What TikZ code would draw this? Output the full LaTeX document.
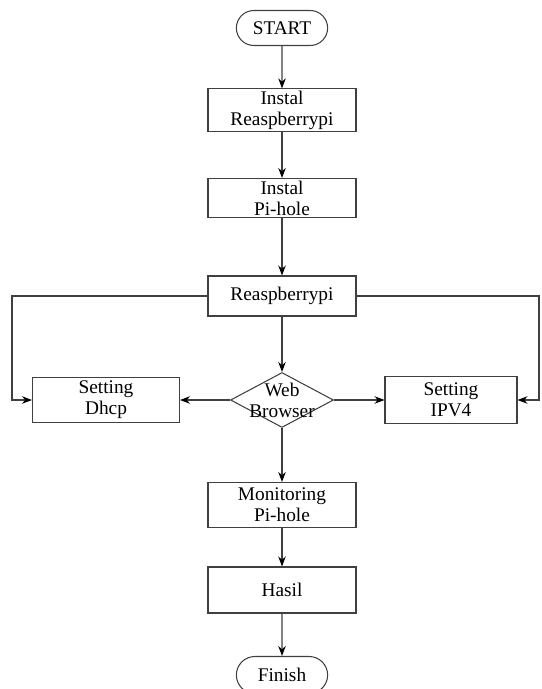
\documentclass[tikz,border=0pt]{standalone}
\usepackage{fontspec}
\setmainfont{Liberation Serif}
\usetikzlibrary{arrows.meta,shapes.geometric,shapes.misc}

\begin{document}
\begin{tikzpicture}[x=0.02cm, y=-0.02cm,
  font=\fontsize{11}{12}\selectfont,
  box/.style={draw=black!75, line width=0.6pt, rectangle, align=center,
    minimum width=2.96cm, minimum height=0.82cm, inner sep=1pt},
  term/.style={draw=black!75, line width=0.6pt, rounded rectangle,
    minimum width=2.06cm, minimum height=0.7cm},
  decide/.style={draw=black!75, line width=0.6pt, diamond,
    minimum width=2.06cm, minimum height=1.1cm, inner sep=0pt},
  arr/.style={draw=black!75, line width=0.6pt, -{Stealth[length=2mm,width=1.5mm,color=black]}}]

\def \mx {282} % x of the main column

\useasboundingbox (0,0) rectangle (541,689);

\node[term] (start) at (\mx,28) {START};
\node[box] (instal) at (\mx,110) {Instal\\Reaspberrypi};
\node[box, minimum height=0.78cm] (pihole) at (\mx,198) {Instal\\Pi-hole};
\node[box, minimum height=0.8cm] (rasp) at (\mx,296) {Reaspberrypi};
\node[decide] (web) at (\mx,400) {};
\node[align=center] (webtxt) at (web) {Web\\Browser};
\node[box, minimum width=2.94cm, minimum height=0.9cm] (dhcp) at (106,400) {Setting\\Dhcp};
\node[box, minimum width=2.64cm, minimum height=0.94cm] (ipv4) at (451,400) {Setting\\IPV4};
\node[box, minimum height=0.9cm] (monitor) at (\mx,505) {Monitoring\\Pi-hole};
\node[box, minimum height=0.92cm] (hasil) at (\mx,590) {Hasil};
\node[term, minimum height=0.74cm] (finish) at (\mx,675) {Finish};

\coordinate (lft) at (12,400);
\coordinate (rgt) at (539,400);

\foreach \a/\b in {start/instal, instal/pihole, pihole/rasp, rasp/web,
                   web/monitor, monitor/hasil, hasil/finish}
  \draw[arr] (\a) -- (\b);

\draw[arr] (web.west) -- (dhcp.east);
\draw[arr] (web.east) -- (ipv4.west);
\draw[arr] (rasp.west) -| (lft) -- (dhcp.west);
\draw[arr] (rasp.east) -| (rgt) -- (ipv4.east);
\end{tikzpicture}
\end{document}
